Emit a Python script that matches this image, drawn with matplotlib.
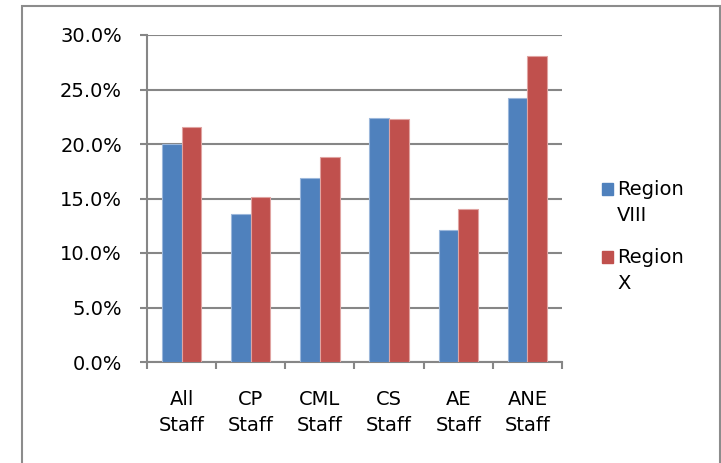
import numpy as np
import matplotlib.pyplot as plt
from matplotlib.patches import Rectangle
from matplotlib.ticker import FuncFormatter

categories = ["All\nStaff", "CP\nStaff", "CML\nStaff", "CS\nStaff", "AE\nStaff", "ANE\nStaff"]
region_viii = [20.0, 13.6, 16.9, 22.4, 12.1, 24.2]
region_x = [21.6, 15.1, 18.8, 22.3, 14.0, 28.1]
series_names = ["Region\nVIII", "Region\nX"]
series_colors = ["#4F81BD", "#C0504D"]

W, H = 721, 463
fig = plt.figure(figsize=(W / 100, H / 100), dpi=100)
ax = fig.add_axes([147 / W, 1 - 362 / H, (562 - 147) / W, (362 - 35) / H])

# outer chart border
fig.patches.append(Rectangle((22 / W, -0.05), (720 - 22) / W, 1.05 - 6 / H,
                             transform=fig.transFigure, fill=False,
                             edgecolor="#8c8c8c", linewidth=1.5))

x = np.arange(len(categories))
w = 0.285
ax.bar(x - w / 2, region_viii, w, color=series_colors[0], edgecolor="#9bb7db",
       linewidth=0.8, zorder=3)
ax.bar(x + w / 2, region_x, w, color=series_colors[1], edgecolor="#e0a3a1",
       linewidth=0.8, zorder=3)

ax.set_xlim(-0.5, len(categories) - 0.5)
ax.set_ylim(0, 30)
ax.set_yticks(np.arange(0, 31, 5))
ax.yaxis.set_major_formatter(FuncFormatter(lambda v, p: f"{v:.1f}%"))
ax.yaxis.grid(True, color="#868686", linewidth=1.5, zorder=0)

ax.set_xticks(np.arange(-0.5, len(categories), 1))
ax.set_xticklabels([])
ax.set_xticks(x, minor=True)
ax.set_xticklabels(categories, minor=True, fontsize=14, linespacing=1.45)
ax.tick_params(axis="x", which="minor", length=0, pad=20)
ax.tick_params(axis="x", which="major", length=5, width=1.5, color="#868686")
ax.tick_params(axis="y", length=5, width=1.5, color="#868686", labelsize=14, pad=13)

for side in ["top", "right"]:
    ax.spines[side].set_visible(False)
for side in ["left", "bottom"]:
    ax.spines[side].set_color("#868686")
    ax.spines[side].set_linewidth(1.5)

# legend drawn Excel-style: square next to first line of a two-line label
legend_tops = [183, 251]
for name, col, top in zip(series_names, series_colors, legend_tops):
    fig.patches.append(Rectangle((602 / W, 1 - (top + 12) / H), 11 / W, 12 / H,
                                 transform=fig.transFigure, color=col))
    fig.text(617 / W, 1 - (top - 3) / H, name, fontsize=14, va="top", ha="left",
             linespacing=1.45)

fig.savefig("out.png", dpi=100)
